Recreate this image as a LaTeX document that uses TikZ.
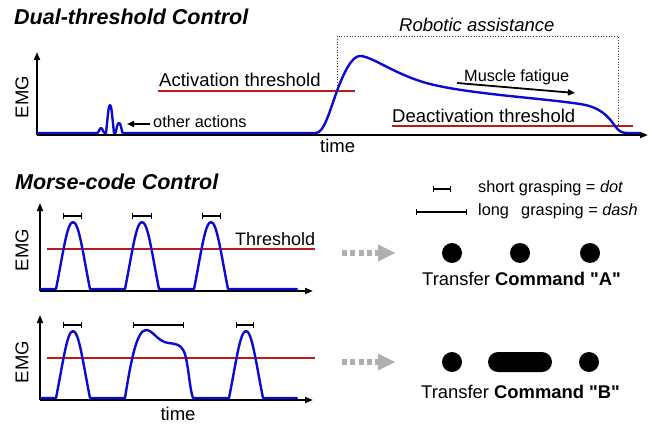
\documentclass[tikz,border=0pt]{standalone}
\usepackage{fontspec}
\setmainfont{Liberation Sans}[Ligatures=TeXOff]
\usetikzlibrary{arrows.meta,calc}
\definecolor{sigblue}{RGB}{10,10,210}
\definecolor{thrred}{RGB}{190,25,25}
\definecolor{arrgray}{RGB}{175,175,175}
\newcommand{\fsz}[1]{\fontsize{#1}{#1}\selectfont}

\begin{document}
\begin{tikzpicture}[x=1pt,y=-1pt,
  axis/.style={line width=1.8pt,-{Triangle[length=8pt,width=6pt]}},
  signal/.style={sigblue,line width=2.4pt,line join=round,line cap=round},
  thresh/.style={thrred,line width=2pt},
  lab/.style={inner sep=0pt,anchor=base west,font=\fsz{18.5}},
  small/.style={inner sep=0pt,anchor=base west,font=\fsz{16.3}},
  title/.style={inner sep=0pt,anchor=base west,font=\fsz{21.5}\bfseries\itshape},
  emg/.style={inner sep=0pt,rotate=90,font=\fsz{18.5}},
  span/.style={line width=1.3pt,{Bar[width=5.5pt]}-{Bar[width=5.5pt]}},
  ptr/.style={line width=1.8pt,-{Triangle[length=7pt,width=6pt]}},
  flow/.style={arrgray,line width=5.5pt,dash pattern=on 5pt off 3.3pt},
  morse/.style={fill=black,circle,minimum size=20pt,inner sep=0pt},
  assist/.style={black!80,line width=0.7pt,dotted}
]
\useasboundingbox (0,0) rectangle (654,428);

% ---------------- Dual-threshold control ----------------
\node[title] (title1) at (14,25) {Dual-threshold Control};
\coordinate (o1) at (37,135);
\coordinate (y1) at (37,52);
\coordinate (x1) at (648,135);
\draw[axis] (o1) -- (y1);
\draw[axis] (o1) -- (x1);
\node[emg] (emg1) at (22,97) {EMG};
\node[lab] (time1) at (320,153) {time};

% thresholds
\draw[thresh] (158,91) -- (355,91);
\node[lab] (act) at (159,87) {Activation threshold};
\draw[thresh] (392,126) -- (633,126);
\node[lab] (deact) at (392,122) {Deactivation threshold};

% assistance window
\draw[assist] (337,91) -- (337,36) -- (618,36) -- (618,126);
\node[lab,font=\fsz{18.5}\itshape] (assist) at (399,32) {Robotic assistance};

% EMG envelope
\draw[signal] (37,133) -- (97,133)
  .. controls (99,133) and (99.5,128) .. (101,128)
  .. controls (102.5,128) and (103,133) .. (105,133) -- (106,133)
  .. controls (108,115) and (108.5,105) .. (110,105)
  .. controls (111.5,105) and (112,115) .. (114,133) -- (115.5,133)
  .. controls (117,127) and (117.5,123) .. (119,123)
  .. controls (120.5,123) and (121,127) .. (122.5,133)
  -- (316,133)
  .. controls (324,133) and (330,110) .. (337,91)
  .. controls (344,72) and (352,56) .. (360,56)
  .. controls (372,56) and (395,75) .. (430,84)
  .. controls (470,94) and (540,98) .. (580,104)
  .. controls (600,107) and (608,116) .. (615,126)
  .. controls (619,131.7) and (622,133) .. (628,133) -- (640,133);

\node[small] (fatigue) at (464,82) {Muscle fatigue};
\coordinate (f0) at (457,83);
\coordinate (f1) at (575,93);
\draw[ptr] (f0) -- (f1);

\node[small] (other) at (153,128) {other actions};
\coordinate (oa0) at (150,124);
\coordinate (oa1) at (127,124);
\draw[ptr] (oa0) -- (oa1);

% ---------------- Morse-code control ----------------
\node[title] (title2) at (15,189) {Morse-code Control};

% command A
\coordinate (o2) at (40,291);
\coordinate (y2) at (40,203);
\coordinate (x2) at (313,291);
\draw[axis] (o2) -- (y2);
\draw[axis] (o2) -- (x2);
\node[emg] (emg2) at (22,250) {EMG};
\draw[thresh] (47,249) -- (315,249);
\node[lab,font=\fsz{18}] (thr2) at (235,245) {Threshold};
\draw[signal] (40,289) -- (56,289)
  .. controls (63,254) and (67,222) .. (73,222)
  .. controls (79,222) and (83,254) .. (90,289) -- (125,289)
  .. controls (132,254) and (136,222) .. (142,222)
  .. controls (148,222) and (152,254) .. (159,289) -- (194,289)
  .. controls (201,254) and (205,222) .. (211,222)
  .. controls (217,222) and (221,254) .. (228,289) -- (297,289);
\draw[span] (63,216) -- (82,216);
\draw[span] (132,216) -- (152,216);
\draw[span] (202,216) -- (221,216);

% command B
\coordinate (o3) at (40,400);
\coordinate (y3) at (40,315);
\coordinate (x3) at (313,400);
\draw[axis] (o3) -- (y3);
\draw[axis] (o3) -- (x3);
\node[emg] (emg3) at (22,362) {EMG};
\draw[thresh] (47,358) -- (315,358);
\draw[signal] (40,398) -- (56,398)
  .. controls (63,363) and (67,331) .. (73,331)
  .. controls (79,331) and (83,363) .. (90,398) -- (125,398)
  .. controls (131,360) and (137,330) .. (146,330)
  .. controls (153,330) and (157,341) .. (168,343)
  .. controls (178,344) and (183,345) .. (186,358)
  .. controls (189,372) and (190,390) .. (193,398) -- (229,398)
  .. controls (236,363) and (240,331) .. (246,331)
  .. controls (252,331) and (256,363) .. (263,398) -- (297,398);
\draw[span] (63,325) -- (82,325);
\draw[span] (133,325) -- (184,325);
\draw[span] (236,325) -- (254,325);
\node[lab,font=\fsz{18.5},anchor=base] (time3) at (178,420) {time};

% legend
\draw[span,line width=1.1pt] (433,189) -- (451,189);
\node[small] (leg1) at (478,192) {short grasping = \textit{dot}};
\draw[span,line width=1.1pt] (416,212) -- (467,212);
\node[small] (leg2) at (478,215) {long\hspace{0.75em}grasping = \textit{dash}};

% transfer arrows
\coordinate (fa0) at (342,253);
\coordinate (fa2) at (395,253);
\draw[flow] (fa0) -- ($(fa2)+(-17,0)$);
\fill[arrgray] ($(fa2)+(-17,-8.5)$) -- (fa2) -- ($(fa2)+(-17,8.5)$) -- cycle;
\coordinate (fb0) at (342,362);
\coordinate (fb2) at (395,362);
\draw[flow] (fb0) -- ($(fb2)+(-17,0)$);
\fill[arrgray] ($(fb2)+(-17,-8.5)$) -- (fb2) -- ($(fb2)+(-17,8.5)$) -- cycle;

% output symbols
\node[morse] (a1) at (452,253) {};
\node[morse] (a2) at (520,253) {};
\node[morse] (a3) at (590,253) {};
\node[lab,font=\fsz{18.4}] (cmdA) at (422,285) {Transfer \textbf{Command "A"}};

\node[morse] (b1) at (452,362) {};
\node[fill=black,rounded corners=10pt,minimum width=64pt,minimum height=20pt,inner sep=0pt] (b2) at (520,362) {};
\node[morse] (b3) at (589,362) {};
\node[lab,font=\fsz{18.4}] (cmdB) at (421,398) {Transfer \textbf{Command "B"}};

\end{tikzpicture}
\end{document}
